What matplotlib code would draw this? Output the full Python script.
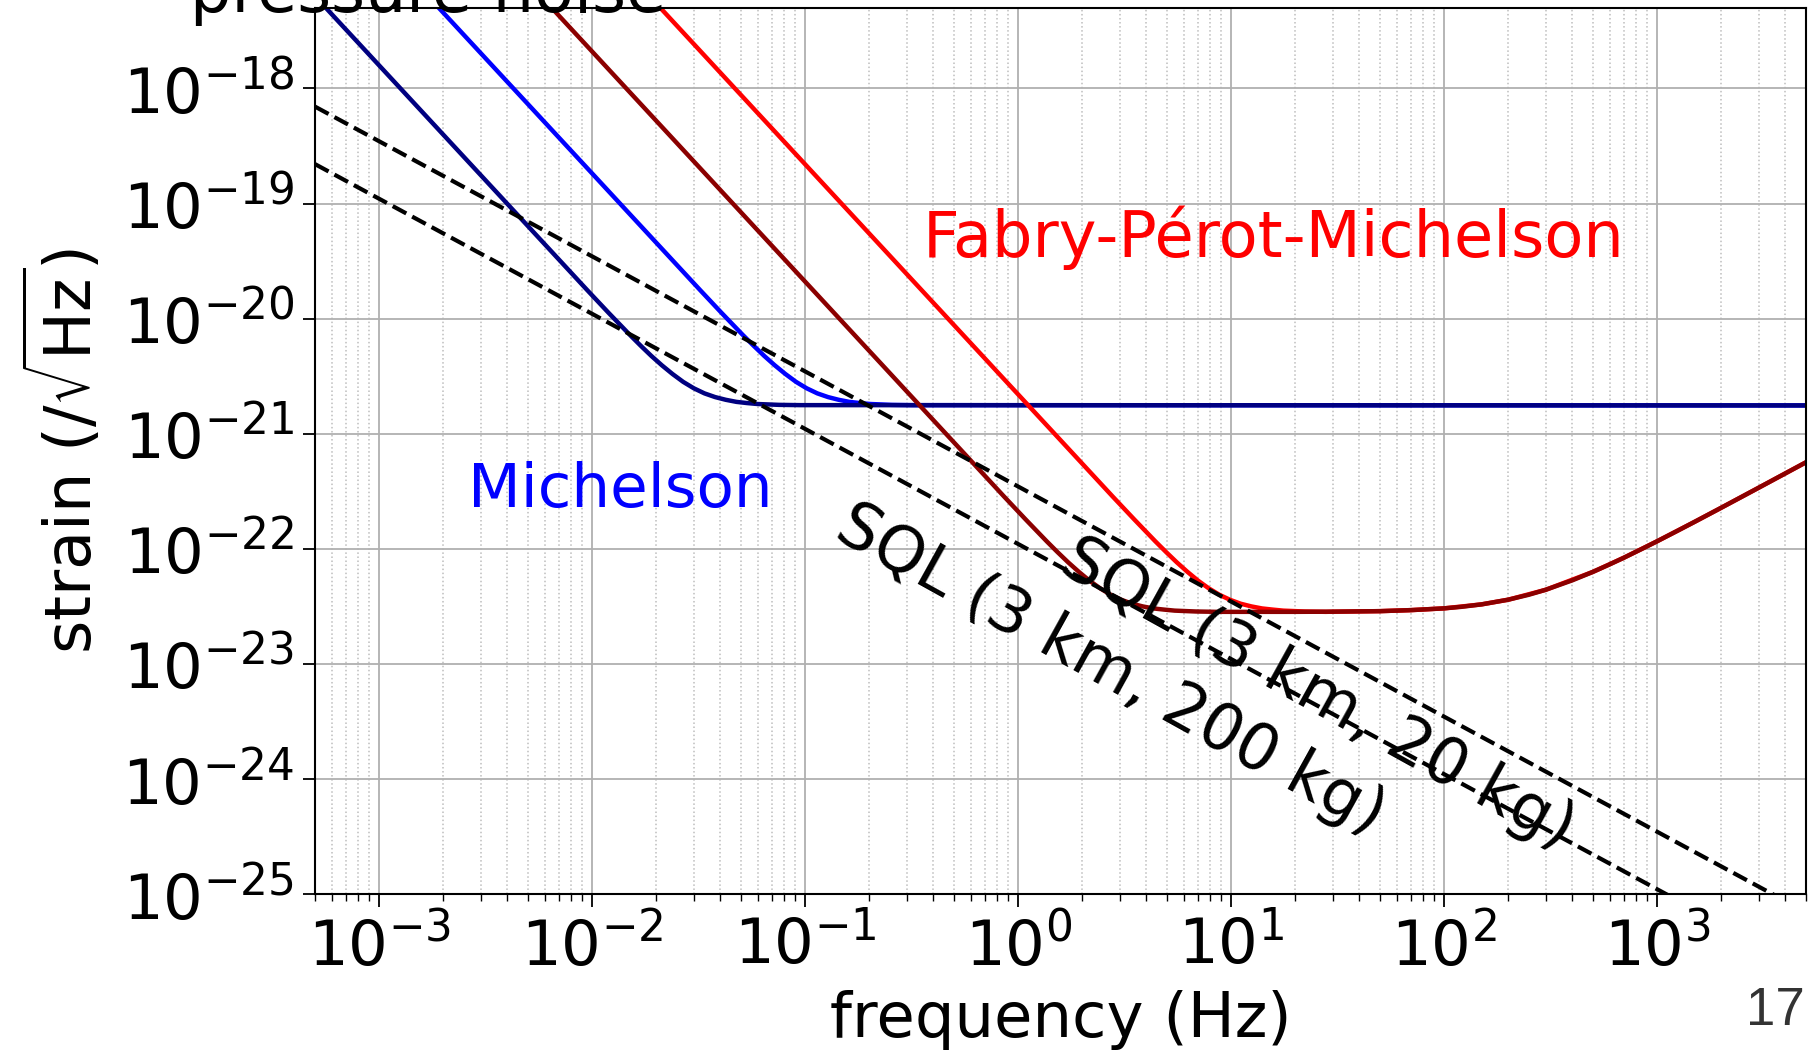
import matplotlib
matplotlib.use("Agg")
import matplotlib.pyplot as plt
from matplotlib.ticker import LogLocator, NullLocator

# ---------------- data ----------------
# Michelson, heavier mirrors (navy)
f_mich_200kg = [5e-4, 9.49e-3, 1.195e-2, 1.505e-2, 1.688e-2, 1.894e-2, 2.125e-2,
                2.385e-2, 2.676e-2, 3.002e-2, 3.368e-2, 3.779e-2, 4.240e-2,
                4.758e-2, 5.338e-2, 5.990e-2, 7.541e-2, 9.493e-2, 5e3]
h_mich_200kg = [6.34e-18, 1.766e-20, 1.122e-20, 7.21e-21, 5.83e-21, 4.75e-21,
                3.93e-21, 3.30e-21, 2.82e-21, 2.48e-21, 2.24e-21, 2.08e-21,
                1.97e-21, 1.89e-21, 1.845e-21, 1.81e-21, 1.78e-21, 1.77e-21,
                1.76e-21]

# Michelson, lighter mirrors (blue)
f_mich_20kg = [5e-4, 0.03217, 0.04050, 0.05098, 0.05720, 0.06418, 0.07201,
               0.08080, 0.09066, 0.1017, 0.1141, 0.1281, 0.1437, 0.1612,
               0.1809, 0.2030, 0.2555, 0.3217, 5e3]
h_mich_20kg = [7.28e-17, 1.766e-20, 1.122e-20, 7.21e-21, 5.83e-21, 4.75e-21,
               3.93e-21, 3.30e-21, 2.82e-21, 2.48e-21, 2.24e-21, 2.08e-21,
               1.97e-21, 1.89e-21, 1.845e-21, 1.81e-21, 1.78e-21, 1.77e-21,
               1.76e-21]

# Fabry-Perot-Michelson, heavier mirrors (dark red)
f_fpm_200kg = [5e-4, 0.861, 1.084, 1.365, 1.531, 1.718, 1.928, 2.163, 2.427,
               2.723, 3.055, 3.428, 3.846, 4.315, 4.842, 5.433, 6.839, 8.610,
               10, 20, 30, 50, 70, 100, 120, 150, 200, 250, 300, 400, 500,
               600, 700, 850, 1000, 1250, 1500, 1750, 2000, 2500, 3000, 4000,
               5000]
h_fpm_200kg = [8.36e-16, 2.83e-22, 1.80e-22, 1.156e-22, 9.35e-23, 7.62e-23,
               6.30e-23, 5.28e-23, 4.53e-23, 3.98e-23, 3.60e-23, 3.33e-23,
               3.155e-23, 3.03e-23, 2.96e-23, 2.90e-23, 2.85e-23, 2.83e-23,
               2.83e-23, 2.83e-23, 2.84e-23, 2.87e-23, 2.93e-23, 3.035e-23,
               3.126e-23, 3.287e-23, 3.609e-23, 3.985e-23, 4.402e-23,
               5.317e-23, 6.302e-23, 7.328e-23, 8.379e-23, 9.99e-23,
               1.162e-22, 1.437e-22, 1.714e-22, 1.993e-22, 2.272e-22,
               2.833e-22, 3.394e-22, 4.519e-22, 5.643e-22]

# Fabry-Perot-Michelson, lighter mirrors (red)
f_fpm_20kg = [5e-4, 2.786, 3.508, 4.416, 4.955, 5.559, 6.237, 6.998, 7.852,
              8.811, 9.886, 11.09, 12.45, 13.96, 15.67, 17.58, 22.13, 27.86,
              30, 50, 70, 100, 150, 200, 300, 500, 700, 1000, 1500, 2000,
              3000, 5000]
h_fpm_20kg = [8.75e-15, 2.83e-22, 1.80e-22, 1.156e-22, 9.35e-23, 7.62e-23,
              6.30e-23, 5.28e-23, 4.53e-23, 3.98e-23, 3.60e-23, 3.33e-23,
              3.155e-23, 3.03e-23, 2.96e-23, 2.90e-23, 2.85e-23, 2.83e-23,
              2.84e-23, 2.87e-23, 2.93e-23, 3.035e-23, 3.287e-23, 3.609e-23,
              4.402e-23, 6.302e-23, 8.379e-23, 1.162e-22, 1.714e-22,
              2.272e-22, 3.394e-22, 5.643e-22]

# Standard quantum limits
f_sql = [5e-4, 5e3]
h_sql_20kg = [6.95e-19, 6.95e-26]
h_sql_200kg = [2.2e-19, 2.2e-26]

label_michelson = "Michelson"
label_fpm = "Fabry-Pérot-Michelson"
label_sql_20 = "SQL (3 km, 20 kg)"
label_sql_200 = "SQL (3 km, 200 kg)"

# ---------------- figure ----------------
W, H = 1816, 1053
fig = plt.figure(figsize=(W / 100, H / 100), dpi=100)
ax = fig.add_axes([315 / W, 1 - 894 / H, (1806 - 315) / W, (894 - 8) / H])

ax.set_xscale("log")
ax.set_yscale("log")

lw = 3.2
ax.plot(f_mich_20kg, h_mich_20kg, color="#0000ff", lw=lw, zorder=2.0)
ax.plot(f_mich_200kg, h_mich_200kg, color="#000080", lw=lw, zorder=2.1)
ax.plot(f_fpm_20kg, h_fpm_20kg, color="#ff0000", lw=lw, zorder=2.2)
ax.plot(f_fpm_200kg, h_fpm_200kg, color="#8b0000", lw=lw, zorder=2.3)
ax.plot(f_sql, h_sql_20kg, color="black", lw=3.0, ls="--", zorder=2.4)
ax.plot(f_sql, h_sql_200kg, color="black", lw=3.0, ls="--", zorder=2.4)

ax.set_xlim(5e-4, 5e3)
ax.set_ylim(1e-25, 5e-18)

ax.xaxis.set_major_locator(LogLocator(base=10, numticks=20))
ax.xaxis.set_minor_locator(LogLocator(base=10, subs=range(2, 10), numticks=20))
ax.yaxis.set_major_locator(LogLocator(base=10, numticks=20))
ax.yaxis.set_minor_locator(NullLocator())

ax.grid(which="major", color="#b0b0b0", lw=1.3)
ax.grid(which="minor", axis="x", color="#bdbdbd", ls=":", lw=1.1)
ax.set_axisbelow(True)

for s in ax.spines.values():
    s.set_linewidth(1.5)

ax.tick_params(which="major", labelsize=45, length=9, width=1.3, pad=6)
ax.tick_params(which="minor", length=5, width=1.0)

ax.set_xlabel("frequency (Hz)", fontsize=45)
ax.set_ylabel(r"strain ($/\sqrt{\mathrm{Hz}}$)", fontsize=46)
ax.xaxis.set_label_coords(0.5, -0.108)
ax.yaxis.set_label_coords(-0.141, 0.5)

ax.text(2.6e-3, 2.30e-22, label_michelson, color="#0000ff", fontsize=44,
        ha="left", va="baseline")
ax.text(0.355, 3.46e-20, label_fpm, color="#ff0000", fontsize=46,
        ha="left", va="baseline")
ax.text(25.6, 5.38e-24, label_sql_20, fontsize=46, rotation=-29,
        rotation_mode="anchor", ha="center", va="center", zorder=5)
ax.text(2.73, 8.87e-24, label_sql_200, fontsize=46, rotation=-29,
        rotation_mode="anchor", ha="center", va="center", zorder=5)

fig.text(190 / W, 1 - 12 / H, "pressure noise", fontsize=47,
         ha="left", va="baseline")
fig.text(1805 / W, 1 - 1025 / H, "17", fontsize=38, family="Liberation Sans",
         color="#333333", ha="right", va="baseline")

fig.savefig("out.png", dpi=100)
